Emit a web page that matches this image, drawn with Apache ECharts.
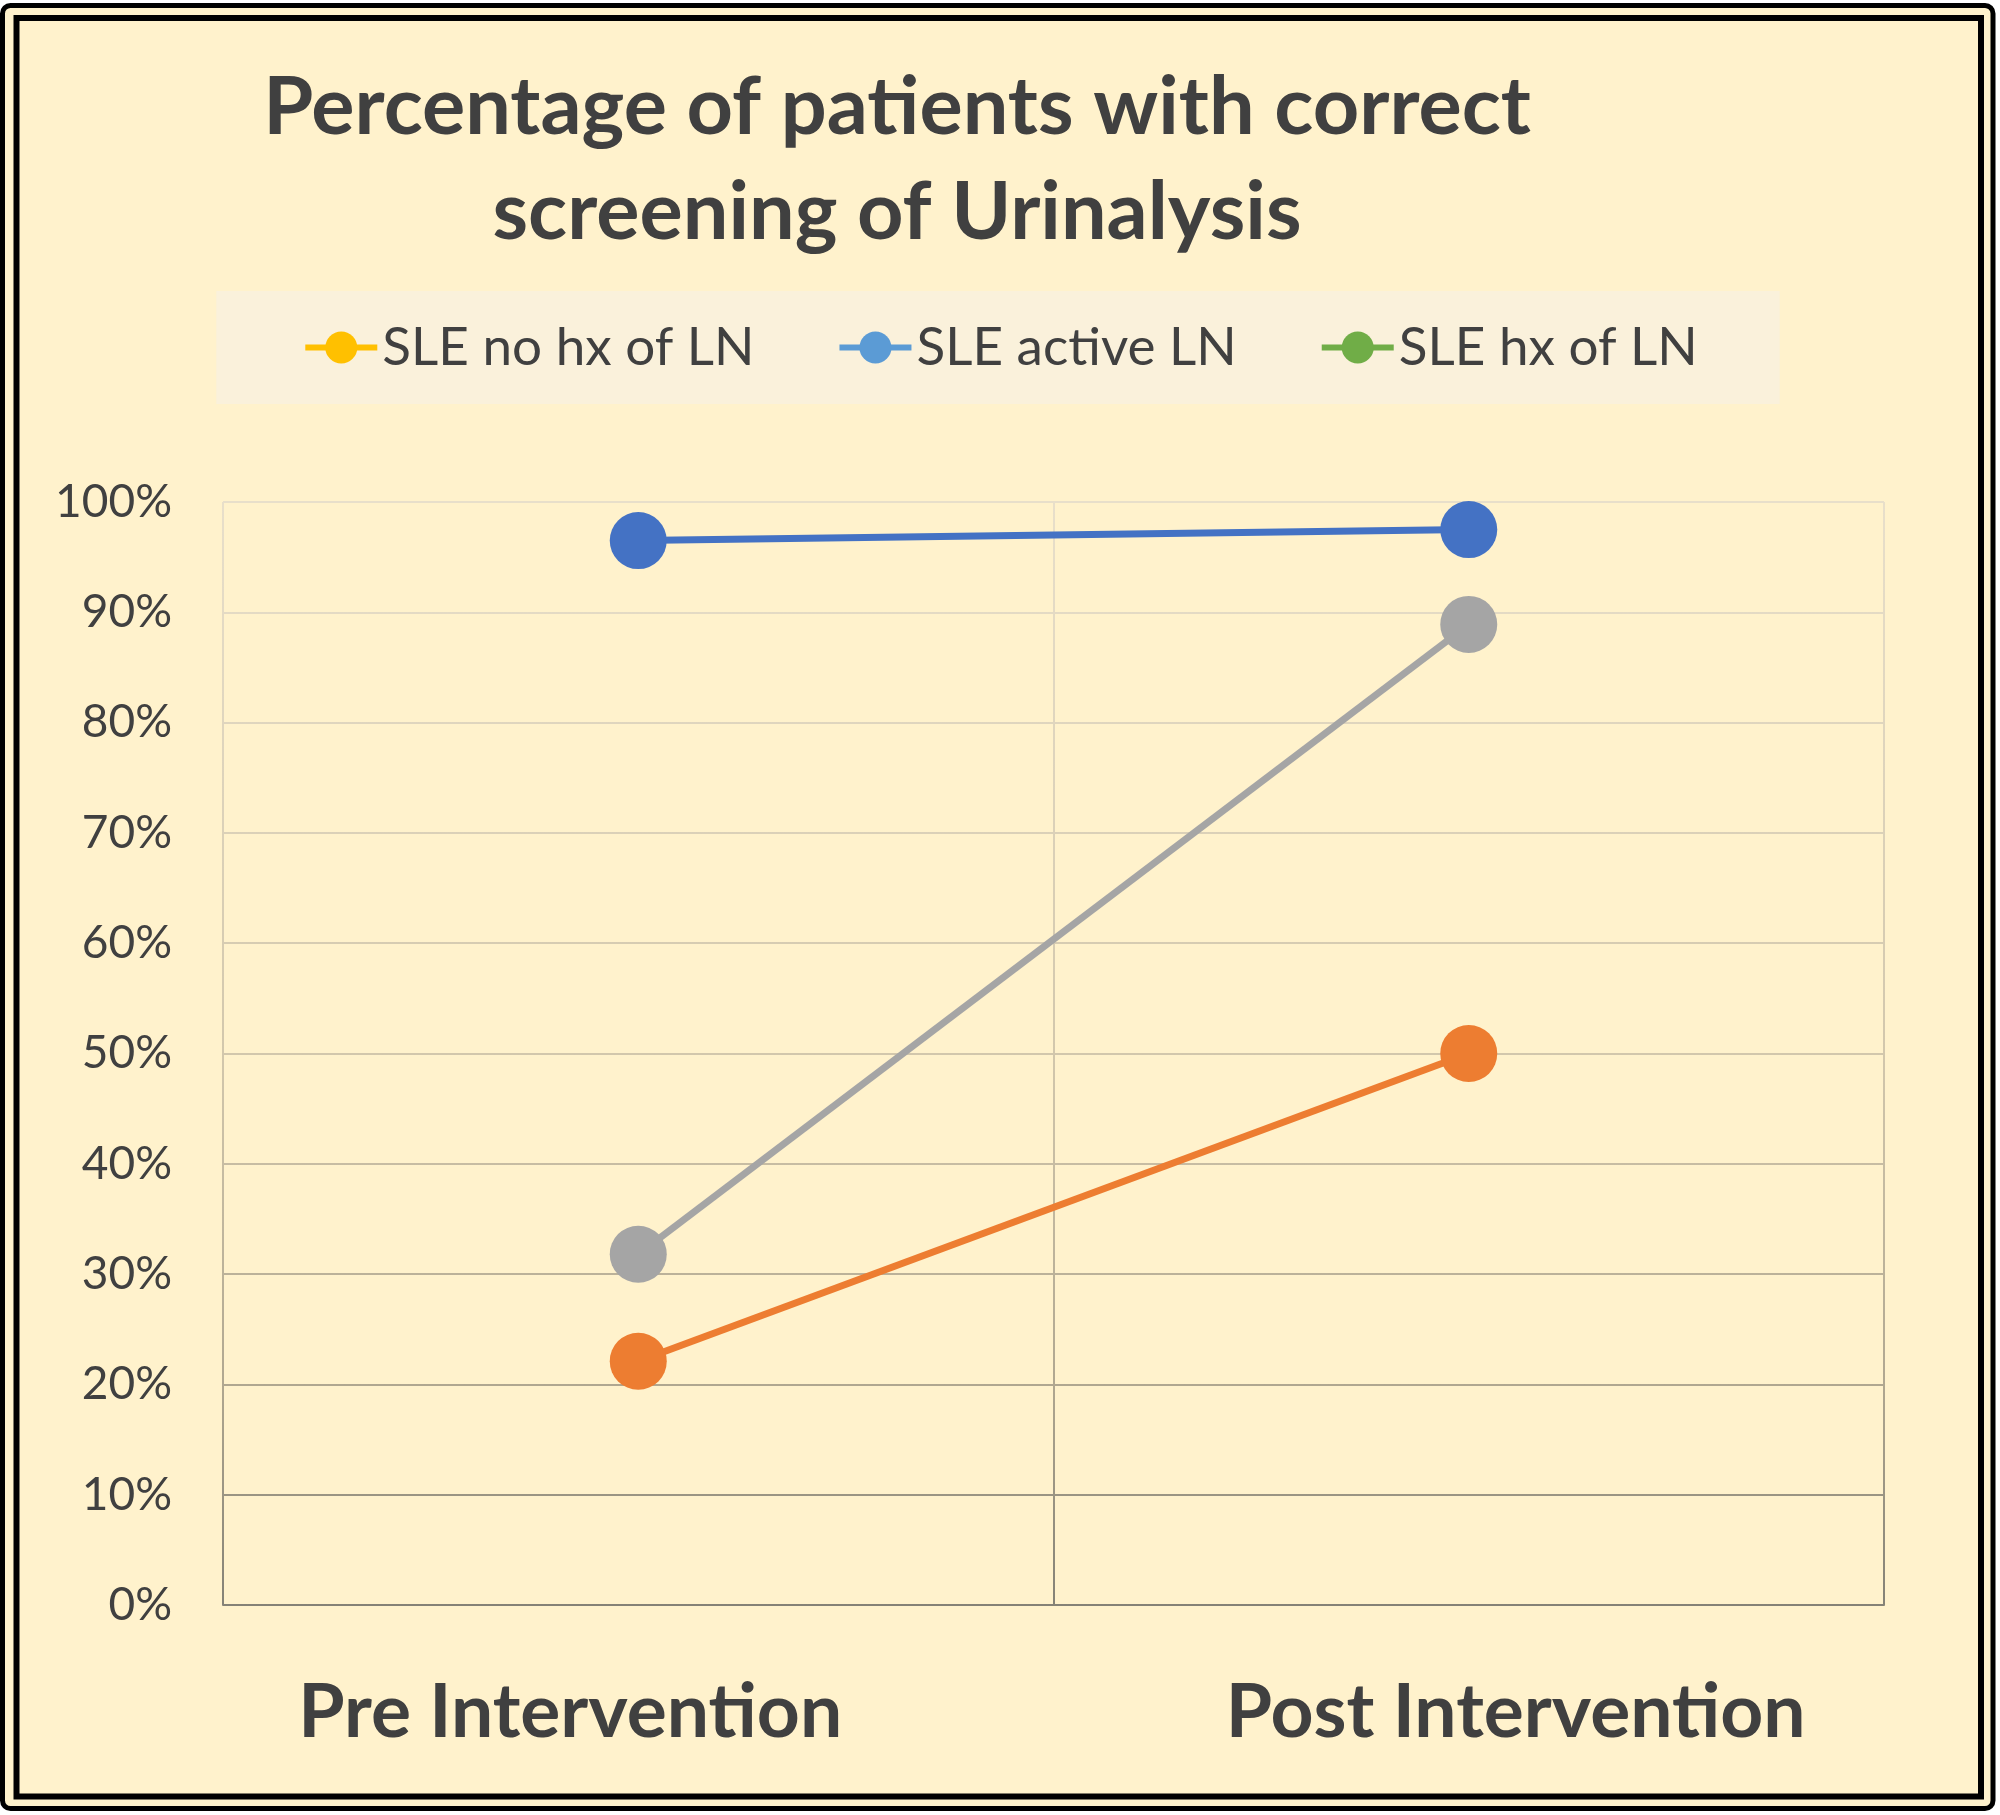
<!DOCTYPE html>
<html>
<head>
<meta charset="utf-8">
<style>
html,body{margin:0;padding:0;background:#ffffff;}
#chart{width:2000px;height:1815px;}
</style>
<script src="https://cdn.jsdelivr.net/npm/echarts@6/dist/echarts.min.js"></script>
</head>
<body>
<div id="chart"></div>
<script>
// ---- data ----
const categories = ['Pre Intervention', 'Post Intervention'];
const seriesNames = ['SLE no hx of LN', 'SLE active LN', 'SLE hx of LN'];
const noHxValues = [22.1, 50.0];     // orange line
const activeValues = [96.5, 97.5];   // blue line
const hxValues = [31.8, 88.9];       // gray line
const yTicks = [0, 10, 20, 30, 40, 50, 60, 70, 80, 90, 100];

const FONT = 'Lato';
const TXT = '#404040';
const gridGrad = {
  type: 'linear', x: 0, y: 502, x2: 0, y2: 1605, global: true,
  colorStops: [
    {offset: 0, color: '#E8DFCA'},
    {offset: 0.5, color: '#D2C7AC'},
    {offset: 0.8, color: '#B0A790'},
    {offset: 1, color: '#858276'}
  ]
};

const chart = echarts.init(document.getElementById('chart'), null, {renderer: 'canvas'});
chart.setOption({
  backgroundColor: 'transparent',
  animation: false,
  graphic: [
    {type: 'rect', z: -100, shape: {x: 2.5, y: 5.5, width: 1990.5, height: 1803, r: 8},
     style: {fill: '#FFF2CC', stroke: '#000', lineWidth: 5}},
    {type: 'rect', z: -99, shape: {x: 16.5, y: 18, width: 1964.5, height: 1778.5},
     style: {fill: 'none', stroke: '#000', lineWidth: 6}}
  ],
  title: {
    text: 'Percentage of patients with correct\nscreening of Urinalysis',
    left: 897, top: 55, textAlign: 'center', padding: 0,
    textStyle: {fontFamily: FONT, fontWeight: 'bold', fontSize: 81, lineHeight: 105, color: TXT}
  },
  legend: {
    top: 291, left: 'center',
    backgroundColor: '#FAF1DB',
    padding: [30, 82, 30, 86],
    itemGap: 82, itemWidth: 72, itemHeight: 40,
    textStyle: {fontFamily: FONT, fontSize: 53, color: TXT},
    data: [
      {name: seriesNames[0], itemStyle: {color: '#FFC000'}, lineStyle: {color: '#FFC000', width: 6}},
      {name: seriesNames[1], itemStyle: {color: '#5B9BD5'}, lineStyle: {color: '#5B9BD5', width: 6}},
      {name: seriesNames[2], itemStyle: {color: '#70AD47'}, lineStyle: {color: '#70AD47', width: 6}}
    ]
  },
  grid: {left: 223, right: 116, top: 502, bottom: 210, containLabel: false},
  xAxis: {
    type: 'category',
    boundaryGap: true,
    data: [
      {value: categories[0], textStyle: {padding: [0, 136, 0, 0]}},
      {value: categories[1], textStyle: {padding: [0, 0, 0, 94]}}
    ],
    axisTick: {show: false},
    axisLine: {show: true, lineStyle: {color: gridGrad, width: 2}},
    splitLine: {show: true, lineStyle: {color: gridGrad, width: 2}},
    axisLabel: {fontFamily: FONT, fontWeight: 'bold', fontSize: 75, color: TXT, margin: 70}
  },
  yAxis: {
    type: 'value', min: yTicks[0], max: yTicks[yTicks.length - 1], interval: 10,
    axisLine: {show: false}, axisTick: {show: false},
    splitLine: {show: true, lineStyle: {color: gridGrad, width: 2}},
    axisLabel: {fontFamily: FONT, fontSize: 46, color: TXT, margin: 51, formatter: '{value}%'}
  },
  series: [
    {name: seriesNames[0], type: 'line', data: noHxValues, symbol: 'circle', symbolSize: 57,
     itemStyle: {color: '#ED7D31'}, lineStyle: {color: '#ED7D31', width: 7}},
    {name: seriesNames[1], type: 'line', data: activeValues, symbol: 'circle', symbolSize: 57,
     itemStyle: {color: '#4472C4'}, lineStyle: {color: '#4472C4', width: 7}},
    {name: seriesNames[2], type: 'line', data: hxValues, symbol: 'circle', symbolSize: 57,
     itemStyle: {color: '#A5A5A5'}, lineStyle: {color: '#A5A5A5', width: 7}}
  ]
});
</script>
</body>
</html>
